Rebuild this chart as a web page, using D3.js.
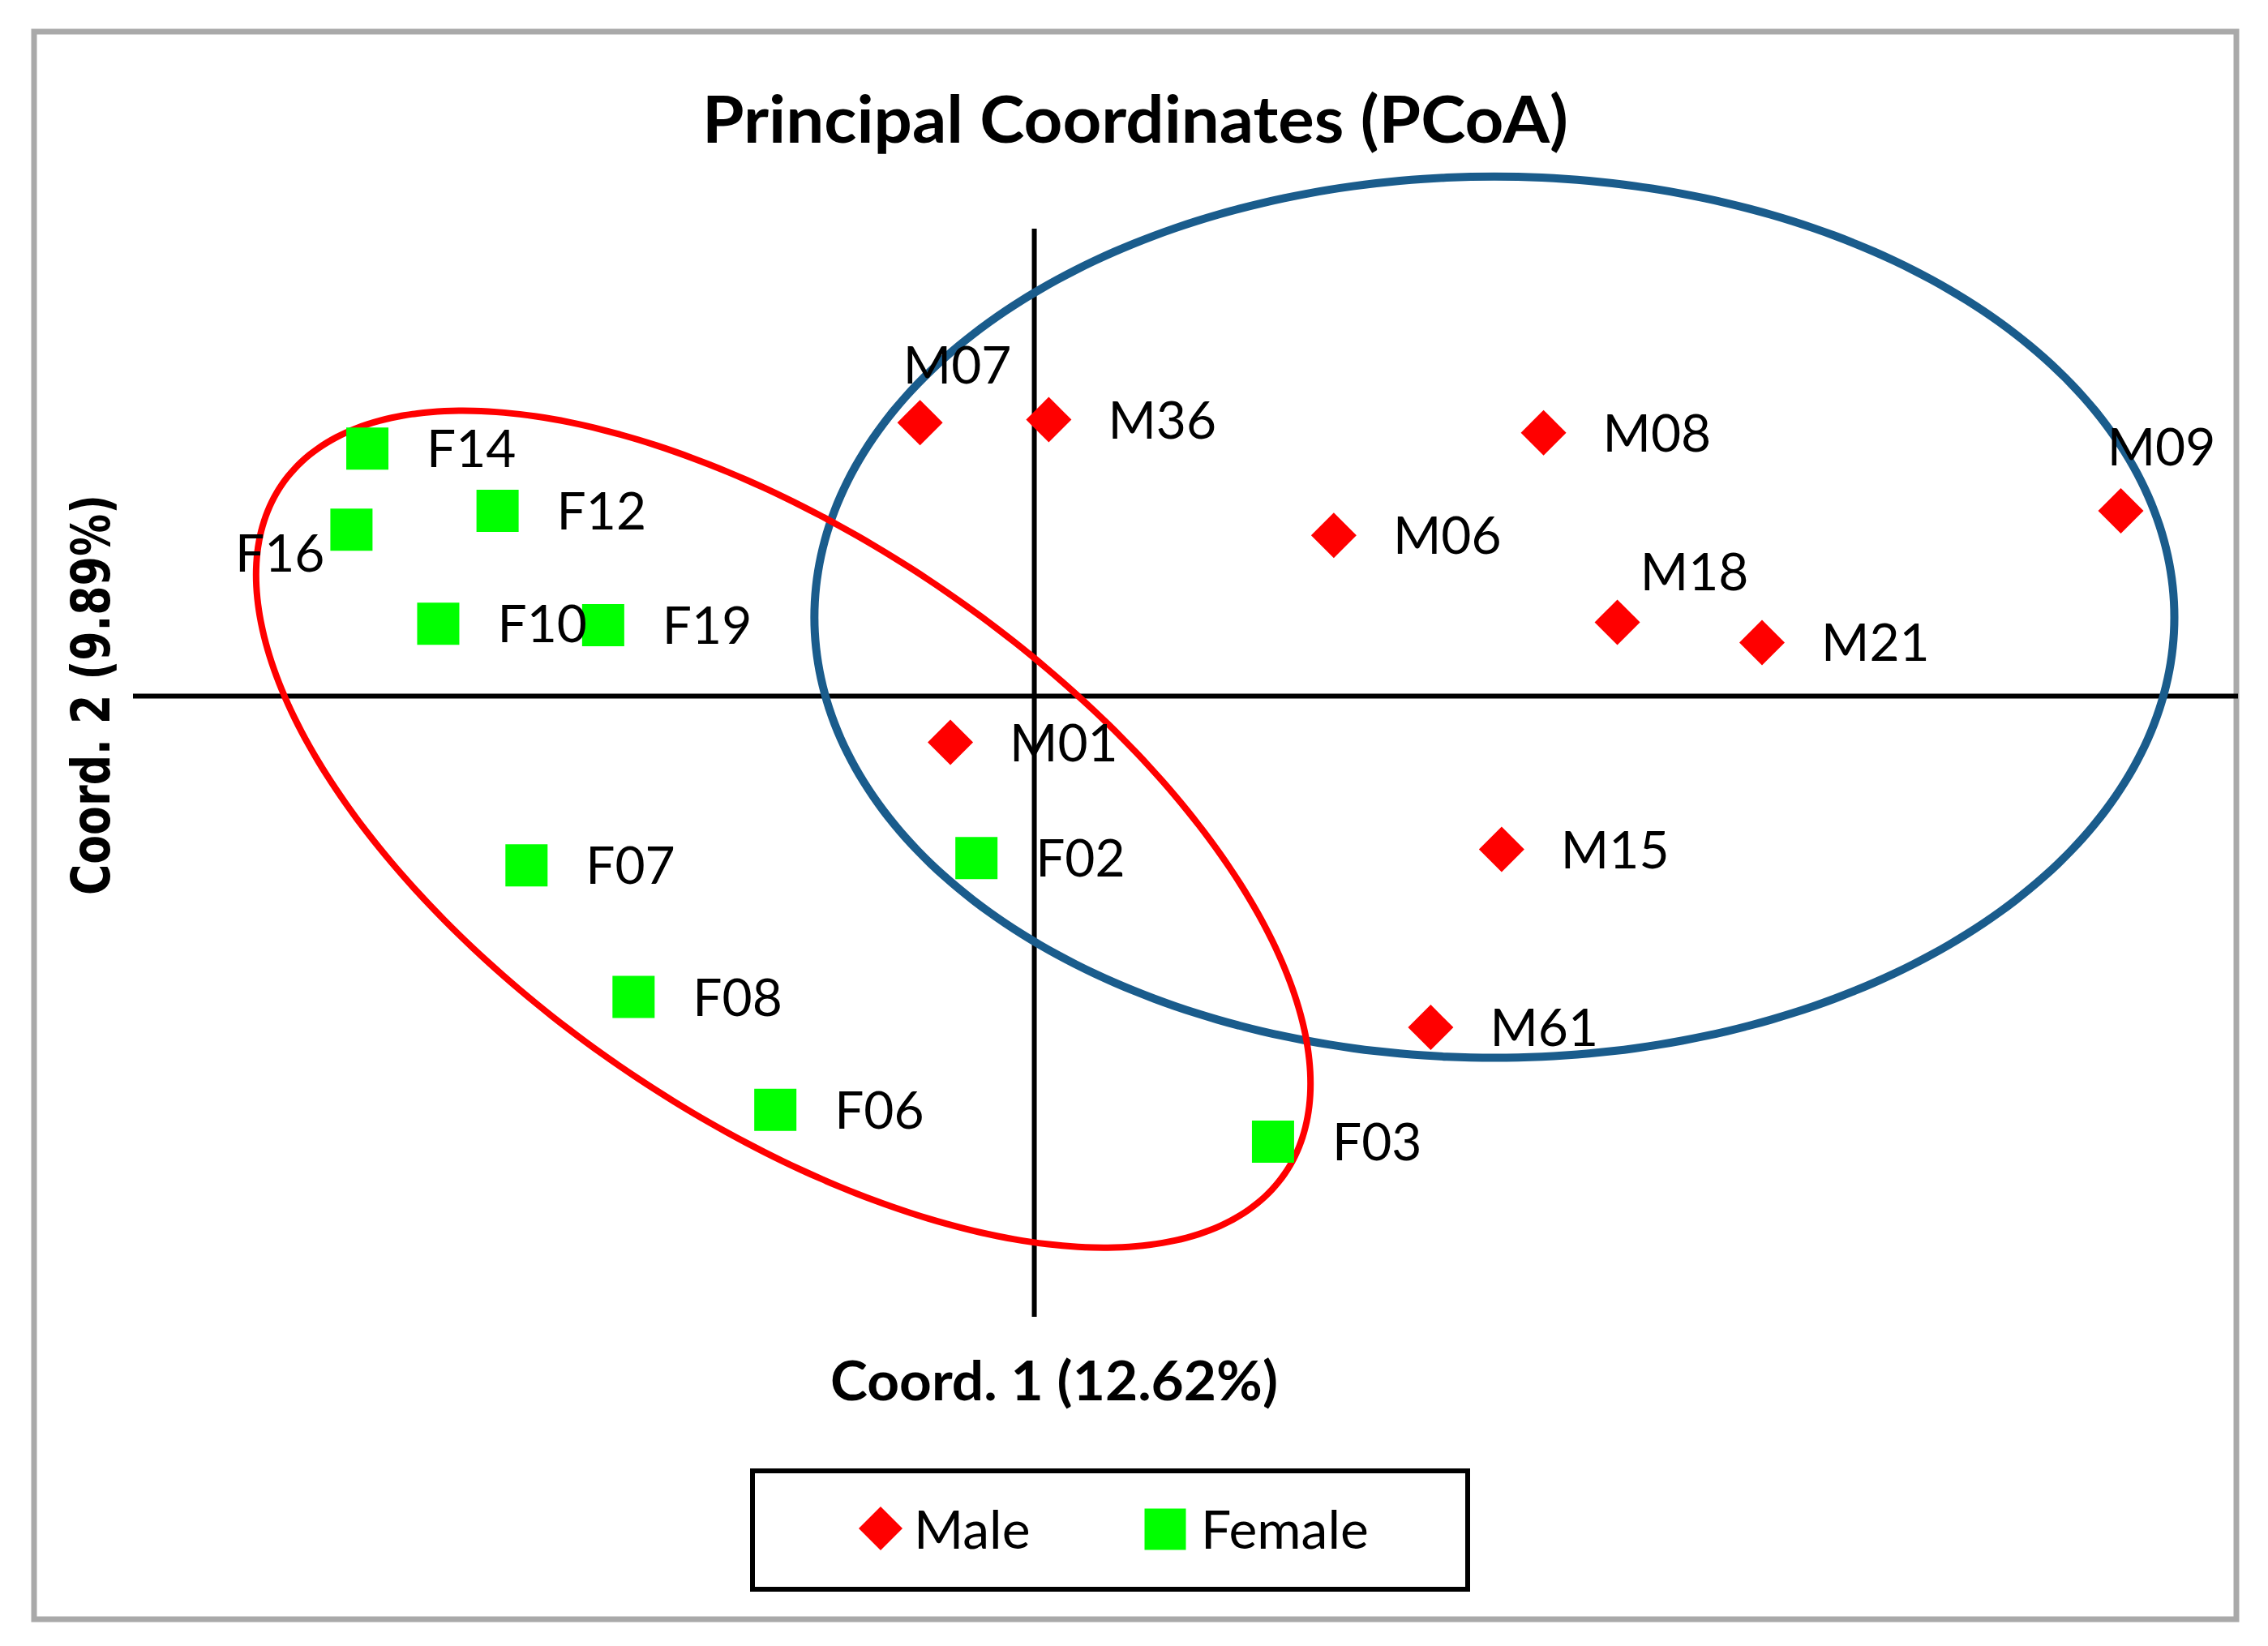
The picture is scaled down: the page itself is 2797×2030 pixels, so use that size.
<!DOCTYPE html>
<html>
<head>
<meta charset="utf-8">
<script src="https://cdn.jsdelivr.net/npm/d3@7"></script>
<style>
  body { margin: 0; background: #fff; }
</style>
</head>
<body>
<div id="chart"></div>
<script>
const maleLabels = ['M07', 'M36', 'M08', 'M09', 'M06', 'M18', 'M21', 'M01', 'M15', 'M61']
const maleX = [-0.079, 0.010, 0.352, 0.751, 0.207, 0.403, 0.503, -0.058, 0.323, 0.274]
const maleY = [0.189, 0.191, 0.182, 0.128, 0.111, 0.051, 0.037, -0.032, -0.106, -0.229]

const femaleLabels = ['F14', 'F12', 'F16', 'F10', 'F19', 'F07', 'F02', 'F08', 'F06', 'F03']
const femaleX = [-0.461, -0.371, -0.472, -0.412, -0.298, -0.351, -0.040, -0.277, -0.179, 0.165]
const femaleY = [0.171, 0.128, 0.115, 0.050, 0.049, -0.117, -0.112, -0.208, -0.286, -0.308]

// ellipse: centre x, centre y, semi-axis 1, semi-axis 2, tilt (deg)
const maleEllipse = [0.318, 0.0545, 0.470, 0.3045, 0]
const femaleEllipse = [-0.1735, -0.092, 0.4205, 0.199, 34.5]

const title = 'Principal Coordinates (PCoA)'
const xTitle = 'Coord. 1 (12.62%)'
const yTitle = 'Coord. 2 (9.89%)'
const legendNames = ['Male', 'Female']

const width = 2797, height = 2030

const svg = d3.select('#chart').append('svg')
  .attr('width', width).attr('height', height)

const x = d3.scaleLinear().domain([-0.623, 0.832]).range([164, 2760])
const y = d3.scaleLinear().domain([0.323, -0.429]).range([282, 1624])

svg.append('rect')
  .attr('x', 42).attr('y', 39).attr('width', 2716).attr('height', 1958)
  .attr('fill', '#fff').attr('stroke', '#a9a9a9').attr('stroke-width', 7)

// axes through the origin
svg.append('line')
  .attr('x1', x(0)).attr('x2', x(0)).attr('y1', y.range()[0]).attr('y2', y.range()[1])
  .attr('stroke', '#000').attr('stroke-width', 6)
svg.append('line')
  .attr('x1', x.range()[0]).attr('x2', x.range()[1]).attr('y1', y(0)).attr('y2', y(0))
  .attr('stroke', '#000').attr('stroke-width', 6)

const ellipsePath = ([cx, cy, a, b, deg]) => {
  const t = deg * Math.PI / 180
  const pts = d3.range(0, 360, 2).map(k => {
    const u = a * Math.cos(k * Math.PI / 180), v = b * Math.sin(k * Math.PI / 180)
    return [cx + u * Math.cos(t) + v * Math.sin(t), cy - u * Math.sin(t) + v * Math.cos(t)]
  })
  return d3.line().x(d => x(d[0])).y(d => y(d[1])).curve(d3.curveCardinalClosed)(pts)
}

svg.append('path').attr('d', ellipsePath(maleEllipse))
  .attr('fill', 'none').attr('stroke', '#1a5c8c').attr('stroke-width', 10)
svg.append('path').attr('d', ellipsePath(femaleEllipse))
  .attr('fill', 'none').attr('stroke', '#ff0000').attr('stroke-width', 8)

const diamond = (cx, cy, r) => `M${cx} ${cy - r}L${cx + r} ${cy}L${cx} ${cy + r}L${cx - r} ${cy}Z`
const square = (cx, cy, s) => `M${cx - s / 2} ${cy - s / 2}h${s}v${s}h${-s}Z`

const males = maleLabels.map((l, i) => ({ label: l, x: maleX[i], y: maleY[i] }))
const females = femaleLabels.map((l, i) => ({ label: l, x: femaleX[i], y: femaleY[i] }))

svg.selectAll('path.male').data(males).enter().append('path')
  .attr('class', 'male')
  .attr('d', d => diamond(x(d.x), y(d.y), 28))
  .attr('fill', '#ff0000')

svg.selectAll('path.female').data(females).enter().append('path')
  .attr('class', 'female')
  .attr('d', d => square(x(d.x), y(d.y), 52))
  .attr('fill', '#00ff00')

// label placement offsets (px); default is to the right of the marker
const labelPos = {
  M07: [46, -71, 'middle'],
  M09: [50, -79, 'middle'],
  M18: [95, -62, 'middle'],
  F16: [-33, 29, 'end']
}

svg.selectAll('text.pt').data(males.concat(females)).enter().append('text')
  .attr('class', 'pt')
  .attr('x', d => x(d.x) + (labelPos[d.label] ? labelPos[d.label][0] : 73))
  .attr('y', d => y(d.y) + (labelPos[d.label] ? labelPos[d.label][1] : 0))
  .attr('dy', '0.36em')
  .attr('text-anchor', d => labelPos[d.label] ? labelPos[d.label][2] : 'start')
  .style('font-family', 'Lato, sans-serif').style('font-size', '64px')
  .text(d => d.label)

svg.append('text')
  .attr('x', 1400).attr('y', 176)
  .attr('text-anchor', 'middle')
  .attr('textLength', 1068).attr('lengthAdjust', 'spacingAndGlyphs')
  .style('font-family', 'Lato, sans-serif').style('font-size', '80px').style('font-weight', 'bold')
  .text(title)

svg.append('text')
  .attr('x', 1300).attr('y', 1727)
  .attr('text-anchor', 'middle')
  .attr('textLength', 552).attr('lengthAdjust', 'spacingAndGlyphs')
  .style('font-family', 'Lato, sans-serif').style('font-size', '66px').style('font-weight', 'bold')
  .text(xTitle)

svg.append('text')
  .attr('transform', 'translate(135,857) rotate(-90)')
  .attr('text-anchor', 'middle')
  .attr('textLength', 494).attr('lengthAdjust', 'spacingAndGlyphs')
  .style('font-family', 'DejaVu Sans, sans-serif').style('font-size', '66px').style('font-weight', 'bold')
  .text(yTitle)

// legend
const legend = svg.append('g')
legend.append('rect')
  .attr('x', 928).attr('y', 1814).attr('width', 882).attr('height', 146)
  .attr('fill', '#fff').attr('stroke', '#000').attr('stroke-width', 6)
legend.append('path').attr('d', diamond(1086, 1885, 27)).attr('fill', '#ff0000')
legend.append('path').attr('d', square(1437, 1886, 51)).attr('fill', '#00ff00')
legend.selectAll('text').data(legendNames).enter().append('text')
  .attr('x', (d, i) => i == 0 ? 1127 : 1481)
  .attr('y', 1886).attr('dy', '0.36em')
  .style('font-family', 'Lato, sans-serif').style('font-size', '66px')
  .text(d => d)
</script>
</body>
</html>
